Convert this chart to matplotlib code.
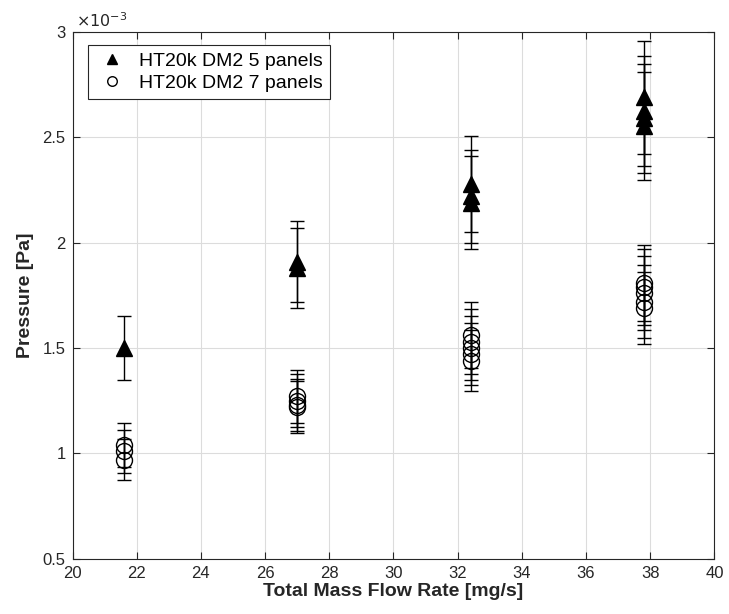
import matplotlib
matplotlib.use("Agg")
import matplotlib.pyplot as plt
from matplotlib.ticker import FuncFormatter

# Data (pressure in units of 1e-3 Pa)
x5 = [21.6, 27.0, 27.0, 32.4, 32.4, 32.4, 37.8, 37.8, 37.8, 37.8]
p5 = [1.50, 1.91, 1.88, 2.28, 2.22, 2.19, 2.69, 2.625, 2.59, 2.555]
e5 = [0.150, 0.191, 0.188, 0.228, 0.222, 0.219, 0.269, 0.263, 0.259, 0.256]

x7 = [21.6, 21.6, 21.6, 27.0, 27.0, 27.0, 27.0,
      32.4, 32.4, 32.4, 32.4, 32.4, 37.8, 37.8, 37.8, 37.8, 37.8]
p7 = [1.04, 1.01, 0.97, 1.27, 1.25, 1.23, 1.22,
      1.56, 1.53, 1.50, 1.47, 1.44, 1.81, 1.79, 1.76, 1.72, 1.69]
e7 = [0.104, 0.101, 0.097, 0.127, 0.125, 0.123, 0.122,
      0.156, 0.153, 0.150, 0.147, 0.144, 0.181, 0.179, 0.176, 0.172, 0.169]

xticks = [20, 22, 24, 26, 28, 30, 32, 34, 36, 38, 40]
yticks = [0.5, 1.0, 1.5, 2.0, 2.5, 3.0]
labels = ["HT20k DM2 5 panels", "HT20k DM2 7 panels"]

plt.rcParams['font.family'] = ['Liberation Sans', 'DejaVu Sans']

fig = plt.figure(figsize=(7.29, 6.14), dpi=100)
ax = fig.add_axes([0.0995, 0.090, 0.8805, 0.858])

ax.errorbar(x5, p5, yerr=e5, fmt='^', color='black', mfc='black', mec='black',
            ms=12, capsize=5, elinewidth=1.0, capthick=1.0, label=labels[0], zorder=3)
ax.errorbar(x7, p7, yerr=e7, fmt='o', color='black', mfc='none', mec='black',
            ms=11.5, mew=1.0, capsize=5, elinewidth=1.0, capthick=1.0, label=labels[1], zorder=3)

ax.set_xlim(20, 40)
ax.set_ylim(0.5, 3.0)
ax.set_xticks(xticks)
ax.set_yticks(yticks)
ax.yaxis.set_major_formatter(FuncFormatter(lambda v, p: "%g" % v))
ax.xaxis.set_major_formatter(FuncFormatter(lambda v, p: "%g" % v))
ax.tick_params(direction='in', top=True, right=True, labelsize=12, length=5,
               width=0.8, colors='#262626', labelcolor='#262626', pad=5)
ax.grid(True, color='#dcdcdc', linewidth=0.8)
ax.set_axisbelow(True)
for s in ax.spines.values():
    s.set_color('#262626')
    s.set_linewidth(0.8)

ax.set_xlabel("Total Mass Flow Rate [mg/s]", fontsize=14, fontweight='bold', color='#262626', labelpad=2)
ax.set_ylabel("Pressure [Pa]", fontsize=14, fontweight='bold', color='#262626', labelpad=6)
ax.text(0.005, 1.004, r"$\times10^{-3}$", transform=ax.transAxes, fontsize=11.5,
        color='#262626', ha='left', va='bottom')

handles, _ = ax.get_legend_handles_labels()
leg = ax.legend([h[0] for h in handles], labels, loc='upper left', fontsize=14,
                frameon=True, fancybox=False, edgecolor='#262626', framealpha=1,
                markerscale=0.6, handletextpad=0.5, borderpad=0.35, handlelength=1.8,
                bbox_to_anchor=(0.024, 0.975), labelspacing=0.25, borderaxespad=0)
leg.get_frame().set_linewidth(0.8)

fig.savefig("out.png", dpi=100)
